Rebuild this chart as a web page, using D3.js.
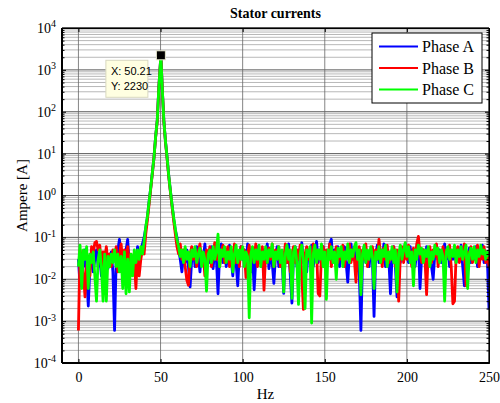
<!DOCTYPE html>
<html>
<head>
<meta charset="utf-8">
<script src="https://cdn.jsdelivr.net/npm/d3@7"></script>
<style>
  body { margin: 0; background: #fff; }
  svg { display: block; font-family: 'Liberation Serif', serif; }
  svg text { font-family: 'Liberation Serif', serif; }
  .axis path, .axis line { stroke: #000; }
  .axis text { fill: #000; font-size: 14px; }
</style>
</head>
<body>
<div id="chart"></div>
<script>
// Frequency grid (Hz), 1 Hz steps with the datatip bin at 50.21
const hz = d3.range(0, 251).map(f => f === 50 ? 50.21 : f);

const phaseA = [
  0.03, 0.007, 0.04, 0.02, 0.05, 0.012, 0.0023, 0.02, 0.04, 0.015,
  0.03, 0.05, 0.02, 0.035, 0.012, 0.04, 0.025, 0.05, 0.018, 0.03,
  0.045, 0.015, 0.0006, 0.03, 0.05, 0.09, 0.02, 0.04, 0.012, 0.05,
  0.09, 0.02, 0.035, 0.015, 0.04, 0.025, 0.06, 0.03, 0.05, 0.07,
  0.1, 0.17, 0.3, 0.7, 1.5, 3.5, 8, 25, 63, 400,
  2230, 400, 63, 20, 8, 3, 1.3, 0.6, 0.28, 0.15,
  0.1, 0.05, 0.03, 0.015, 0.04, 0.025, 0.05, 0.02, 0.0066, 0.03,
  0.05, 0.02, 0.06, 0.035, 0.015, 0.045, 0.03, 0.07, 0.02, 0.04,
  0.025, 0.06, 0.018, 0.05, 0.03, 0.0045, 0.04, 0.07, 0.025, 0.05,
  0.02, 0.04, 0.065, 0.03, 0.012, 0.045, 0.025, 0.007, 0.04, 0.06,
  0.03, 0.05, 0.02, 0.07, 0.035, 0.015, 0.04, 0.0056, 0.03, 0.06,
  0.025, 0.045, 0.02, 0.05, 0.03, 0.07, 0.018, 0.04, 0.025, 0.008,
  0.035, 0.06, 0.02, 0.045, 0.03, 0.0046, 0.05, 0.025, 0.07, 0.012,
  0.0027, 0.04, 0.06, 0.02, 0.05, 0.03, 0.075, 0.025, 0.04, 0.015,
  0.05, 0.03, 0.065, 0.02, 0.04, 0.08, 0.025, 0.05, 0.035, 0.06,
  0.02, 0.045, 0.03, 0.07, 0.09, 0.025, 0.05, 0.035, 0.06, 0.02,
  0.045, 0.03, 0.06, 0.025, 0.0085, 0.04, 0.07, 0.03, 0.05, 0.02,
  0.04, 0.015, 0.0006, 0.03, 0.06, 0.025, 0.045, 0.02, 0.05, 0.03,
  0.0013, 0.04, 0.065, 0.025, 0.05, 0.03, 0.07, 0.02, 0.045, 0.03,
  0.0045, 0.035, 0.06, 0.02, 0.0038, 0.04, 0.025, 0.055, 0.03, 0.07,
  0.04, 0.025, 0.06, 0.03, 0.05, 0.02, 0.045, 0.07, 0.006, 0.035,
  0.05, 0.025, 0.06, 0.03, 0.045, 0.02, 0.01, 0.04, 0.065, 0.03,
  0.05, 0.025, 0.04, 0.07, 0.03, 0.055, 0.02, 0.045, 0.03, 0.06,
  0.025, 0.05, 0.035, 0.065, 0.02, 0.007, 0.04, 0.03, 0.055, 0.025,
  0.045, 0.03, 0.06, 0.02, 0.05, 0.035, 0.065, 0.025, 0.04, 0.03, 0.0019
];

const phaseB = [
  0.0006, 0.05, 0.03, 0.015, 0.0038, 0.02, 0.035, 0.012, 0.06, 0.04,
  0.075, 0.08, 0.05, 0.065, 0.02, 0.045, 0.03, 0.06, 0.025, 0.04,
  0.02, 0.05, 0.03, 0.06, 0.015, 0.04, 0.07, 0.025, 0.05, 0.03,
  0.06, 0.02, 0.04, 0.015, 0.03, 0.006, 0.04, 0.012, 0.03, 0.05,
  0.04, 0.12, 0.26, 0.6, 1.4, 3.3, 8, 24, 60, 400,
  2230, 400, 60, 19, 7.5, 2.8, 1.2, 0.55, 0.25, 0.12,
  0.06, 0.04, 0.07, 0.03, 0.05, 0.02, 0.0096, 0.0072, 0.04, 0.06,
  0.03, 0.05, 0.02, 0.045, 0.07, 0.025, 0.04, 0.012, 0.05, 0.03,
  0.06, 0.02, 0.04, 0.075, 0.03, 0.05, 0.02, 0.045, 0.065, 0.025,
  0.04, 0.06, 0.02, 0.05, 0.03, 0.07, 0.025, 0.045, 0.02, 0.06,
  0.035, 0.05, 0.011, 0.04, 0.065, 0.025, 0.05, 0.03, 0.07, 0.02,
  0.045, 0.03, 0.06, 0.0055, 0.04, 0.025, 0.055, 0.03, 0.07, 0.02,
  0.05, 0.035, 0.06, 0.02, 0.045, 0.03, 0.07, 0.025, 0.05, 0.015,
  0.04, 0.06, 0.025, 0.05, 0.03, 0.065, 0.012, 0.0019, 0.04, 0.06,
  0.03, 0.05, 0.02, 0.07, 0.035, 0.05, 0.0045, 0.004, 0.04, 0.06,
  0.025, 0.05, 0.03, 0.07, 0.02, 0.045, 0.035, 0.06, 0.025, 0.05,
  0.03, 0.065, 0.02, 0.045, 0.035, 0.07, 0.025, 0.05, 0.03, 0.0085,
  0.04, 0.06, 0.025, 0.05, 0.03, 0.07, 0.02, 0.045, 0.035, 0.06,
  0.025, 0.05, 0.03, 0.09, 0.04, 0.02, 0.055, 0.03, 0.065, 0.025,
  0.045, 0.03, 0.06, 0.02, 0.05, 0.003, 0.035, 0.06, 0.025, 0.05,
  0.03, 0.065, 0.04, 0.02, 0.055, 0.03, 0.07, 0.105, 0.04, 0.025,
  0.05, 0.03, 0.0043, 0.045, 0.06, 0.025, 0.05, 0.035, 0.07, 0.02,
  0.045, 0.03, 0.06, 0.025, 0.05, 0.035, 0.065, 0.02, 0.0026, 0.003,
  0.04, 0.06, 0.025, 0.05, 0.03, 0.07, 0.007, 0.045, 0.03, 0.06,
  0.025, 0.05, 0.035, 0.065, 0.02, 0.045, 0.03, 0.06, 0.025, 0.04, 0.02
];

const phaseC = [
  0.02, 0.065, 0.006, 0.05, 0.03, 0.06, 0.006, 0.04, 0.025, 0.045,
  0.012, 0.003, 0.03, 0.05, 0.02, 0.003, 0.04, 0.003, 0.035, 0.02,
  0.04, 0.025, 0.05, 0.02, 0.04, 0.015, 0.035, 0.006, 0.045, 0.0045,
  0.03, 0.005, 0.04, 0.012, 0.05, 0.025, 0.05, 0.03, 0.06, 0.04,
  0.08, 0.18, 0.32, 0.7, 1.5, 3.5, 8, 25, 63, 400,
  2230, 400, 63, 20, 8, 3, 1.3, 0.6, 0.3, 0.16,
  0.09, 0.06, 0.035, 0.05, 0.025, 0.06, 0.03, 0.045, 0.02, 0.05,
  0.035, 0.06, 0.025, 0.04, 0.055, 0.02, 0.045, 0.03, 0.0052, 0.04,
  0.05, 0.025, 0.06, 0.03, 0.045, 0.12, 0.02, 0.05, 0.035, 0.06,
  0.025, 0.045, 0.03, 0.06, 0.015, 0.04, 0.065, 0.025, 0.05, 0.03,
  0.06, 0.02, 0.045, 0.035, 0.0012, 0.04, 0.06, 0.025, 0.05, 0.03,
  0.065, 0.02, 0.045, 0.03, 0.06, 0.025, 0.05, 0.035, 0.07, 0.02,
  0.045, 0.03, 0.06, 0.025, 0.05, 0.005, 0.04, 0.065, 0.03, 0.05,
  0.0035, 0.045, 0.06, 0.025, 0.0025, 0.04, 0.065, 0.03, 0.002, 0.05,
  0.035, 0.06, 0.0009, 0.04, 0.065, 0.025, 0.05, 0.03, 0.07, 0.02,
  0.045, 0.0033, 0.05, 0.03, 0.06, 0.025, 0.045, 0.01, 0.055, 0.035,
  0.06, 0.02, 0.045, 0.03, 0.07, 0.025, 0.05, 0.035, 0.06, 0.075,
  0.03, 0.05, 0.0043, 0.04, 0.065, 0.025, 0.05, 0.03, 0.06, 0.035,
  0.006, 0.045, 0.03, 0.06, 0.025, 0.05, 0.035, 0.065, 0.02, 0.045,
  0.03, 0.06, 0.025, 0.05, 0.005, 0.04, 0.065, 0.03, 0.05, 0.075,
  0.035, 0.06, 0.025, 0.045, 0.007, 0.05, 0.03, 0.065, 0.04, 0.055,
  0.025, 0.05, 0.035, 0.06, 0.02, 0.045, 0.03, 0.065, 0.04, 0.055,
  0.025, 0.05, 0.035, 0.003, 0.045, 0.06, 0.03, 0.05, 0.035, 0.065,
  0.025, 0.05, 0.035, 0.06, 0.03, 0.045, 0.065, 0.006, 0.04, 0.055,
  0.03, 0.06, 0.025, 0.05, 0.035, 0.065, 0.04, 0.05, 0.03, 0.045, 0.035
];

const seriesNames = ['Phase A', 'Phase B', 'Phase C'];
const seriesColors = ['#0000ff', '#ff0000', '#00ff00'];
const xTicks = [0, 50, 100, 150, 200, 250];
const yDecades = [1e-4, 1e-3, 1e-2, 1e-1, 1e0, 1e1, 1e2, 1e3, 1e4];
const tipX = 50.21;
const tipY = 2230;

class SpectrumPlot {
    constructor(_config) {
        this.config = {
            parentElement: _config.parentElement,
            containerWidth: _config.containerWidth || 500,
            containerHeight: _config.containerHeight || 403,
            margin: _config.margin || { top: 28, right: 11, bottom: 40, left: 62 }
        };
        this.initVis();
    }

    initVis() {
        let vis = this;

        vis.width = vis.config.containerWidth - vis.config.margin.left - vis.config.margin.right;
        vis.height = vis.config.containerHeight - vis.config.margin.top - vis.config.margin.bottom;

        vis.svg = d3.select(vis.config.parentElement)
            .append('svg')
            .attr('width', vis.config.containerWidth)
            .attr('height', vis.config.containerHeight);

        vis.chart = vis.svg.append('g')
            .attr('transform', `translate(${vis.config.margin.left},${vis.config.margin.top})`);

        vis.xScale = d3.scaleLinear().domain([-10, 250]).range([0, vis.width]);
        vis.yScale = d3.scaleLog().domain([1e-4, 1e4]).range([vis.height, 0]);

        // minor values 2..9 x 10^n
        vis.yMinor = [];
        yDecades.slice(0, -1).forEach(d => {
            for (let k = 2; k <= 9; k++) vis.yMinor.push(d * k);
        });

        vis.chart.append('defs').append('clipPath')
            .attr('id', 'plot-clip')
            .append('rect')
            .attr('width', vis.width)
            .attr('height', vis.height);

        vis.renderGrid();
        vis.renderLines();
        vis.renderAxes();
        vis.renderLabels();
        vis.renderLegend();
        vis.renderDatatip();
    }

    renderGrid() {
        let vis = this;
        const grid = vis.chart.append('g').attr('class', 'grid');

        grid.selectAll('.minor-y')
            .data(vis.yMinor)
            .join('line')
            .attr('x1', 0).attr('x2', vis.width)
            .attr('y1', d => vis.yScale(d)).attr('y2', d => vis.yScale(d))
            .attr('stroke', '#9a9a9a')
            .attr('stroke-width', 0.7);

        grid.selectAll('.major-y')
            .data(yDecades)
            .join('line')
            .attr('x1', 0).attr('x2', vis.width)
            .attr('y1', d => vis.yScale(d)).attr('y2', d => vis.yScale(d))
            .attr('stroke', '#444')
            .attr('stroke-width', 0.9);

        grid.selectAll('.major-x')
            .data(xTicks)
            .join('line')
            .attr('x1', d => vis.xScale(d)).attr('x2', d => vis.xScale(d))
            .attr('y1', 0).attr('y2', vis.height)
            .attr('stroke', '#666')
            .attr('stroke-width', 0.8);
    }

    renderLines() {
        let vis = this;
        const line = d3.line()
            .x((d, i) => vis.xScale(hz[i]))
            .y(d => vis.yScale(d));

        vis.chart.append('g')
            .attr('clip-path', 'url(#plot-clip)')
            .selectAll('.series')
            .data([phaseA, phaseB, phaseC])
            .join('path')
            .attr('class', 'series')
            .attr('fill', 'none')
            .attr('stroke', (d, i) => seriesColors[i])
            .attr('stroke-width', 2.8)
            .attr('stroke-linejoin', 'round')
            .attr('d', line);
    }

    renderAxes() {
        let vis = this;

        const supLabel = sel => sel.selectAll('.tick text').each(function (d) {
            const t = d3.select(this);
            t.text('');
            t.append('tspan').text('10');
            t.append('tspan')
                .attr('dy', '-0.55em')
                .attr('font-size', '10px')
                .text(Math.round(Math.log10(d)));
        });

        vis.chart.append('g').attr('class', 'axis')
            .call(d3.axisLeft(vis.yScale).tickValues(vis.yMinor).tickSizeInner(-2.5).tickSizeOuter(0).tickFormat(''));
        vis.chart.append('g').attr('class', 'axis')
            .call(d3.axisLeft(vis.yScale).tickValues(yDecades).tickSizeInner(-4).tickSizeOuter(0).tickPadding(6))
            .call(supLabel);

        vis.chart.append('g').attr('class', 'axis')
            .attr('transform', `translate(${vis.width},0)`)
            .call(d3.axisRight(vis.yScale).tickValues(vis.yMinor).tickSizeInner(-2.5).tickSizeOuter(0).tickFormat(''));
        vis.chart.append('g').attr('class', 'axis')
            .attr('transform', `translate(${vis.width},0)`)
            .call(d3.axisRight(vis.yScale).tickValues(yDecades).tickSizeInner(-4).tickSizeOuter(0).tickFormat(''));

        vis.chart.append('g').attr('class', 'axis')
            .attr('transform', `translate(0,${vis.height})`)
            .call(d3.axisBottom(vis.xScale).tickValues(xTicks).tickSizeInner(-4).tickSizeOuter(0).tickPadding(9));
        vis.chart.append('g').attr('class', 'axis')
            .call(d3.axisTop(vis.xScale).tickValues(xTicks).tickSizeInner(-4).tickSizeOuter(0).tickFormat(''));

        vis.chart.selectAll('.axis').attr('font-family', null);

        // box: thick left/bottom, thin top/right
        vis.chart.append('line')
            .attr('x1', 0).attr('x2', 0).attr('y1', 0).attr('y2', vis.height)
            .attr('stroke', '#000').attr('stroke-width', 2);
        vis.chart.append('line')
            .attr('x1', 0).attr('x2', vis.width).attr('y1', vis.height).attr('y2', vis.height)
            .attr('stroke', '#000').attr('stroke-width', 2);
        vis.chart.append('line')
            .attr('x1', 0).attr('x2', vis.width).attr('y1', 0).attr('y2', 0)
            .attr('stroke', '#000').attr('stroke-width', 1);
        vis.chart.append('line')
            .attr('x1', vis.width).attr('x2', vis.width).attr('y1', 0).attr('y2', vis.height)
            .attr('stroke', '#000').attr('stroke-width', 1);
    }

    renderLabels() {
        let vis = this;

        vis.svg.append('text')
            .attr('x', vis.config.margin.left + vis.width / 2)
            .attr('y', 18)
            .attr('text-anchor', 'middle')
            .style('font-size', '14px')
            .style('font-weight', 'bold')
            .text('Stator currents');

        vis.svg.append('text')
            .attr('transform', `translate(27,${vis.config.margin.top + vis.height / 2}) rotate(-90)`)
            .attr('text-anchor', 'middle')
            .style('font-size', '15px')
            .text('Ampere [A]');

        vis.svg.append('text')
            .attr('x', vis.config.margin.left + vis.width / 2 - 10)
            .attr('y', 399)
            .attr('text-anchor', 'middle')
            .style('font-size', '15px')
            .text('Hz');
    }

    renderLegend() {
        let vis = this;

        const legend = vis.svg.append('g')
            .attr('class', 'legend')
            .attr('transform', 'translate(372,33)');

        legend.append('rect')
            .attr('width', 110)
            .attr('height', 70)
            .attr('fill', '#fff')
            .attr('stroke', '#000')
            .attr('stroke-width', 1);

        const items = legend.selectAll('.legend-item')
            .data(seriesNames)
            .join('g')
            .attr('class', 'legend-item')
            .attr('transform', (d, i) => `translate(0,${13.5 + i * 21.5})`);

        items.append('line')
            .attr('x1', 7).attr('x2', 46)
            .attr('stroke', (d, i) => seriesColors[i])
            .attr('stroke-width', 2);

        items.append('text')
            .attr('x', 50)
            .attr('y', 5.5)
            .style('font-size', '16px')
            .text(d => d);
    }

    renderDatatip() {
        let vis = this;
        const px = vis.xScale(tipX);
        const py = vis.yScale(tipY);

        const tip = vis.chart.append('g').attr('class', 'datatip');

        tip.append('rect')
            .attr('x', px - 55)
            .attr('y', py + 5)
            .attr('width', 42)
            .attr('height', 37)
            .attr('fill', '#ffffe1')
            .attr('stroke', '#d8d8c0')
            .attr('stroke-width', 1);

        tip.append('text')
            .attr('x', px - 50)
            .attr('y', py + 20)
            .style('font-family', "'Liberation Sans', Arial, sans-serif")
            .style('font-size', '11px')
            .text(`X: ${tipX}`);

        tip.append('text')
            .attr('x', px - 50)
            .attr('y', py + 35)
            .style('font-family', "'Liberation Sans', Arial, sans-serif")
            .style('font-size', '11px')
            .text(`Y: ${tipY}`);

        tip.append('rect')
            .attr('x', px - 4.5)
            .attr('y', py - 4.5)
            .attr('width', 9)
            .attr('height', 9)
            .attr('fill', '#000')
            .attr('stroke', '#e8e8d0')
            .attr('stroke-width', 1);
    }
}

new SpectrumPlot({ parentElement: '#chart' });
</script>
</body>
</html>
